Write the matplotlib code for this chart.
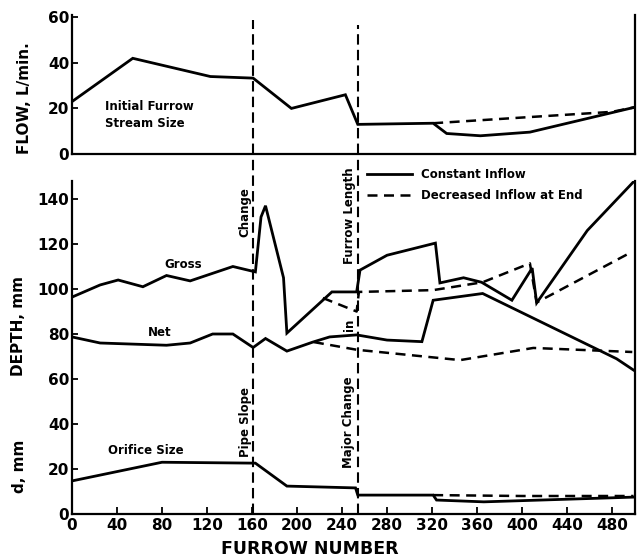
import matplotlib
matplotlib.use("Agg")
import matplotlib.pyplot as plt
from matplotlib.lines import Line2D

# ---- data ----
flow_x = [0, 54, 123, 161, 195, 243, 254, 321, 333, 363, 407, 500]
flow_const = [23, 42, 34, 33.3, 20, 26, 13, 13.5, 9, 8, 9.6, 20.5]
flow_dec_x = [321, 400, 480, 500]
flow_dec = [13.5, 16, 18.5, 20.5]

gross_x = [0, 25, 41, 63, 84, 105, 143, 163, 168, 172, 188, 191, 231, 253, 256,
           280, 323, 327, 348, 364, 391, 409, 413, 458, 499]
gross_const = [96.4, 101.8, 104, 101, 106, 103.6, 110, 107.6, 132, 137, 105, 80.4,
               98.7, 98.7, 108.4, 115, 120.4, 102.7, 105, 103, 95, 109.3, 93.8, 126, 147.6]
gross_dec_x = [223, 253, 255, 321, 365, 407, 413, 498]
gross_dec = [96, 90, 98.7, 99.5, 103, 111.4, 94, 116.6]

net_x = [0, 25, 84, 105, 125, 143, 161, 172, 191, 214, 229, 253, 280, 311, 321, 365, 484, 499]
net_const = [78.7, 76, 75, 76, 80, 80, 74, 78, 72.4, 76.4, 78.7, 79.6, 77.3, 76.6, 95, 98, 69, 64]
net_dec_x = [215, 253, 345, 410, 498]
net_dec = [76.4, 73, 68.4, 73.8, 72]

orif_x = [0, 80, 163, 191, 252, 254, 321, 324, 366, 499]
orif_const = [14.7, 23, 22.6, 12.4, 11.6, 8.4, 8.4, 6.2, 5.4, 7.5]
orif_dec_x = [321, 400, 499]
orif_dec = [8.4, 8.0, 8.0]

x_ticks = list(range(0, 481, 40))
flow_ticks = [0, 20, 40, 60]
depth_ticks = [0, 20, 40, 60, 80, 100, 120, 140]
change_x = [161, 254]

W, H = 641, 558
fig = plt.figure(figsize=(W / 100, H / 100), dpi=100)
plt.rcParams['font.family'] = ['DejaVu Sans']

L, R = 72, 635
ax1 = fig.add_axes([L / W, 1 - 154 / H, (R - L) / W, 139 / H])
ax2 = fig.add_axes([L / W, 1 - 514 / H, (R - L) / W, 333 / H])

solid = dict(color='black', lw=2.0, solid_joinstyle='miter')
dashed = dict(color='black', lw=1.8, linestyle=(0, (4, 2.6)))
vdash = dict(color='black', lw=1.5, linestyle=(0, (5, 2.5)))

ax1.plot(flow_x, flow_const, **solid)
ax1.plot(flow_dec_x, flow_dec, **dashed)

ax2.plot(gross_x, gross_const, **solid)
ax2.plot(gross_dec_x, gross_dec, **dashed)
ax2.plot(net_x, net_const, **solid)
ax2.plot(net_dec_x, net_dec, **dashed)
ax2.plot(orif_x, orif_const, **solid)
ax2.plot(orif_dec_x, orif_dec, **dashed)

for xc, top in zip(change_x, [20, 25]):
    ax1.axvline(xc, ymin=0, ymax=(154 - top) / 139, **vdash)
    ax2.axvline(xc, ymin=0, ymax=(514 - 154) / 333, clip_on=False, **vdash)

ax1.set_xlim(0, 500.4)
ax1.set_ylim(0, 61)
ax2.set_xlim(0, 500.4)
ax2.set_ylim(0, 148)

for ax in (ax1, ax2):
    ax.spines['top'].set_visible(False)
    for s in ('left', 'right', 'bottom'):
        ax.spines[s].set_linewidth(1.6)
    ax.tick_params(direction='in', length=4, width=1.3, labelsize=11, pad=2)
    for t in ax.get_xticklabels() + ax.get_yticklabels():
        t.set_fontweight('bold')

ax1.set_xticks([])
ax1.set_yticks(flow_ticks)
ax1.set_yticklabels([str(v) for v in flow_ticks], fontweight='bold')
ax2.set_xticks(x_ticks)
ax2.set_xticklabels([str(v) for v in x_ticks], fontweight='bold')
ax2.set_yticks(depth_ticks)
ax2.set_yticklabels([str(v) for v in depth_ticks], fontweight='bold')
ax2.tick_params(axis='x', length=5, pad=3)

lab = dict(fontsize=11, fontweight='bold', rotation=90, ha='center', va='center')
fig.text(25 / W, 1 - 98 / H, 'FLOW, L/min.', **lab)
fig.text(19 / W, 1 - 326 / H, 'DEPTH, mm', **lab)
fig.text(20 / W, 1 - 466 / H, 'd, mm', **lab)
fig.text(310 / W, 1 - 549 / H, 'FURROW NUMBER', fontsize=12.5, fontweight='bold',
         ha='center', va='center')

note = dict(fontsize=8.5, fontweight='bold')
ax1.text(29, 17, 'Initial Furrow\nStream Size', ha='left', va='center',
         linespacing=1.4, **note)
ax2.text(99, 111, 'Gross', ha='center', va='center', **note)
ax2.text(78, 80.5, 'Net', ha='center', va='center', **note)
ax2.text(66, 28, 'Orifice Size', ha='center', va='center', **note)

rot = dict(rotation=90, ha='center', va='center', **note)
ax2.text(154, 134, 'Change', **rot)
ax2.text(154, 41, 'Pipe Slope', **rot)
ax2.text(247, 132.5, 'Furrow Length', **rot)
ax2.text(247, 84, 'in', **rot)
ax2.text(245.5, 41, 'Major Change', **rot)

handles = [Line2D([], [], **solid), Line2D([], [], **dashed)]
ax2.legend(handles, ['Constant Inflow', 'Decreased Inflow at End'],
           loc='upper left', bbox_to_anchor=((367 - L) / (R - L), (514 - 168) / 333),
           frameon=False, prop={'size': 8.5, 'weight': 'bold'}, handlelength=3.8,
           handletextpad=0.8, labelspacing=0.7, borderpad=0, borderaxespad=0)

fig.savefig('out.png', dpi=100)
